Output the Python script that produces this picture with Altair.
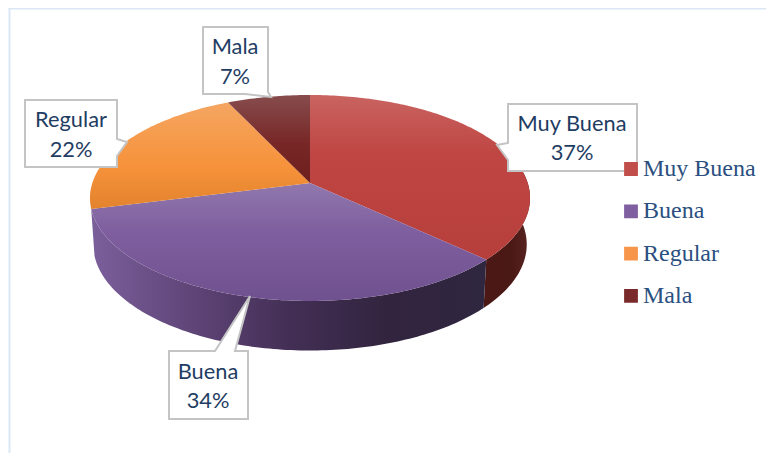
import math
import altair as alt
import pandas as pd

names = ["Muy Buena", "Buena", "Regular", "Mala"]
values = [37, 34, 22, 7]
legend_colors = ["#c24e4b", "#7f5fa0", "#f7954a", "#7a2a2a"]
top_stops = [
    [("#c96461", 0), ("#bf4643", 0.35), ("#b63e3b", 1)],
    [("#9078ad", 0), ("#7f5f9f", 0.4), ("#70518f", 1)],
    [("#f5a662", 0), ("#f6923a", 0.6), ("#e3832e", 1)],
    [("#874c4d", 0), ("#772726", 0.55), ("#6d1f1d", 1)],
]
wall_stops = [
    [("#4b1815", 0), ("#4a1815", 0.6), ("#5a2522", 1)],
    [("#7a5f9b", 0), ("#604579", 0.25), ("#432f55", 0.5), ("#32243f", 0.75), ("#2f2640", 1)],
]
label_pos = {"Muy Buena": (572, 124, 153), "Buena": (208, 372, 401),
             "Regular": (71, 120, 150), "Mala": (235, 47, 77)}
boxes = [
    [(203, 27), (268, 27), (268, 92), (271, 97), (245, 94), (203, 94)],
    [(25, 100), (117, 100), (117, 139), (127, 142), (117, 156), (117, 167), (25, 167)],
    [(508, 104), (637, 104), (637, 171), (508, 171), (508, 160), (497, 145), (508, 143)],
    [(169, 351), (215, 351), (250, 296), (235, 351), (248, 351), (248, 419), (169, 419)],
]

CX, CY, A, B, K = 310, 183, 217.7, 100.8, 0.1456
DEPTH_Y, LOW_X, LOW_Y = 46, 0.985, 1.03
OFF = 8


def rim(deg, low=False):
    t = math.radians(deg)
    X, Y = math.sin(t), math.cos(t)
    w = 1 + K * Y
    px, py = A * X / w, -B * Y / w
    if low:
        return (CX + px * LOW_X, CY + DEPTH_Y + py * LOW_Y)
    return (CX + px, CY + py)


def arc(a0, a1, low=False):
    n = max(2, int(abs(a1 - a0)) + 1)
    return [rim(a0 + (a1 - a0) * i / (n - 1), low) for i in range(n)]


def feature(pts):
    ring = [[x, -y] for x, y in pts] + [[pts[0][0], -pts[0][1]]]
    return {"type": "Feature", "properties": {}, "geometry": {"type": "Polygon", "coordinates": [ring]}}


def shape(pts):
    return alt.Data(values={"type": "FeatureCollection", "features": [feature(pts)]},
                    format=alt.DataFormat(property="features", type="json"))


def gradient(stops, horizontal=False):
    return alt.LinearGradient(
        gradient="linear",
        stops=[alt.GradientStop(color=c, offset=o) for c, o in stops],
        x1=0, x2=1 if horizontal else 0, y1=0, y2=0 if horizontal else 1,
    )


def project(ch):
    return ch.project(type="identity", reflectY=True, scale=1, translate=[-OFF, -OFF])


total = sum(values)
layers = []

edges = [0]
for v in values:
    edges.append(edges[-1] + v / total * 360)

# side walls: the red slice and the purple slice face the viewer
for i, (a0, a1) in enumerate([(80, edges[1]), (edges[1], edges[2])]):
    pts = arc(a0, a1) + arc(a1, a0, low=True)
    layers.append(project(alt.Chart(shape(pts)).mark_geoshape(
        fill=gradient(wall_stops[i], horizontal=True), strokeWidth=0)))

# top faces
for i in range(len(values)):
    pts = [(CX, CY)] + arc(edges[i], edges[i + 1])
    layers.append(project(alt.Chart(shape(pts)).mark_geoshape(
        fill=gradient(top_stops[i]), strokeWidth=0)))

# callouts
for b in boxes:
    layers.append(project(alt.Chart(shape(b)).mark_geoshape(
        fill="white", stroke="#c4c4c4", strokeWidth=2)))

# frame
frame_color = "#dbe7f5"
frame = pd.DataFrame({"a": [0]})
layers.append(alt.Chart(frame).mark_rule(color=frame_color, strokeWidth=2).encode(
    x=alt.value(1.5), y=alt.value(0), y2=alt.value(445)))
layers.append(alt.Chart(frame).mark_rule(color=frame_color, strokeWidth=2).encode(
    x=alt.value(0.5), x2=alt.value(758), y=alt.value(0.5)))

# callout texts
rows = []
for n, v in zip(names, values):
    x, y1, y2 = label_pos[n]
    rows.append({"t": n, "px": x - OFF, "py": y1 - OFF})
    rows.append({"t": f"{v}%", "px": x - OFF, "py": y2 - OFF})
layers.append(alt.Chart(pd.DataFrame(rows)).mark_text(
    font="Lato", fontSize=21.8, color="#1f3d63", align="center", baseline="middle"
).encode(x=alt.X("px:Q", scale=None), y=alt.Y("py:Q", scale=None), text="t:N"))

# legend
df = pd.DataFrame({"name": names})
layers.append(alt.Chart(df).mark_square(size=169, opacity=0).encode(
    x=alt.value(-50), y=alt.value(-50),
    color=alt.Color("name:N", scale=alt.Scale(domain=names, range=legend_colors),
                    legend=alt.Legend(
                        orient="none", legendX=609, legendY=149, title=None,
                        symbolType="square", symbolSize=190, symbolOpacity=1,
                        symbolStrokeWidth=0, symbolOffset=2, labelFont="Liberation Serif",
                        labelFontSize=24, labelColor="#2a4f80", labelOffset=0,
                        clipHeight=24, rowPadding=18.3, padding=0, labelLimit=200))))

chart = alt.layer(*layers).properties(
    width=758, height=445, padding=0, autosize=alt.AutoSizeParams(type="none"),
    background="white",
).configure_view(stroke=None)

chart.save("out.html", embed_options={"renderer": "svg", "actions": False})
